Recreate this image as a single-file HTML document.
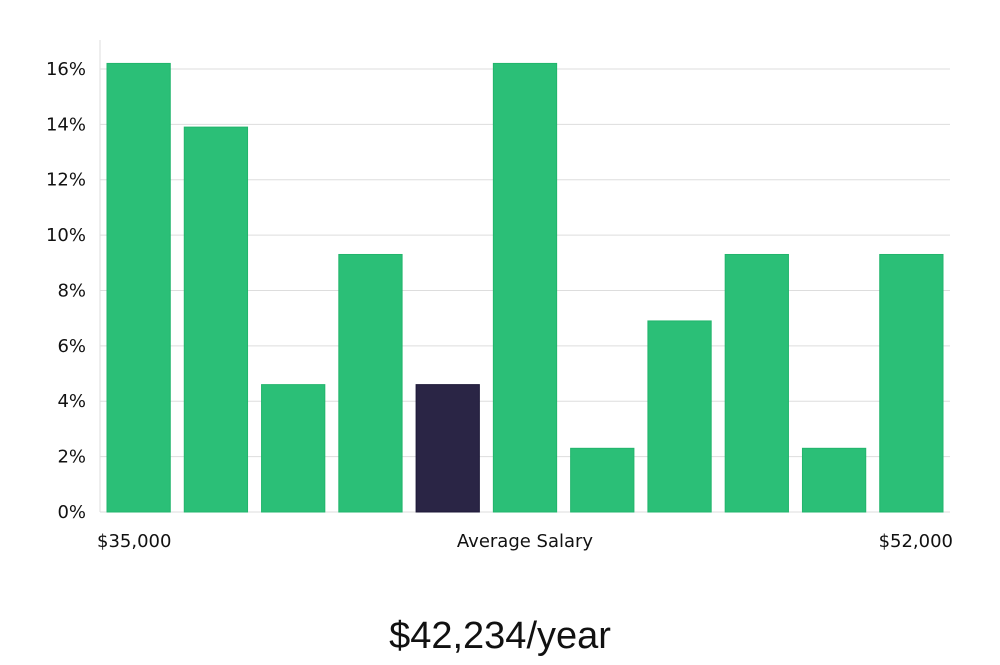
<!DOCTYPE html>
<html><head><meta charset="utf-8"><style>
body{margin:0;background:#fff;}
svg text{font-family:"DejaVu Sans","Liberation Sans",sans-serif;fill:#111;}
</style></head><body>
<svg width="1000" height="660">
<g id="grid"></g><g id="bars"></g><g id="labels"></g>
<line x1="100" y1="40" x2="100" y2="512" stroke="#ddd"/>
<text x="97" y="547" font-size="18">$35,000</text>
<text x="525" y="547" font-size="18" text-anchor="middle">Average Salary</text>
<text x="953" y="547" font-size="18" text-anchor="end">$52,000</text>
<text x="500" y="648" font-size="38" text-anchor="middle" style="font-family:'Liberation Sans Narrow','Liberation Sans',sans-serif;font-weight:300">$42,234/year</text>
</svg>
<script>
const values=[16.2,13.9,4.6,9.3,4.6,16.2,2.3,6.9,9.3,2.3,9.3];
const highlightIndex=4;
const yTicks=[0,2,4,6,8,10,12,14,16];
const x0=100,x1=950,yBase=512,yPer=27.69;
const ns="http://www.w3.org/2000/svg";
const y=v=>yBase-v*yPer;
const slot=(x1-x0)/values.length;
const g=document.getElementById('grid'),b=document.getElementById('bars'),l=document.getElementById('labels');
yTicks.forEach(t=>{
 const ln=document.createElementNS(ns,'line');
 
 
 ln.setAttribute('x1',x0);ln.setAttribute('x2',x1);ln.setAttribute('y1',y(t));ln.setAttribute('y2',y(t));
 ln.setAttribute('stroke','#ddd');g.appendChild(ln);
 const tx=document.createElementNS(ns,'text');
 
 
 tx.setAttribute('x',86);tx.setAttribute('y',y(t)+6);tx.setAttribute('text-anchor','end');tx.setAttribute('font-size','18');
 tx.textContent=t+'%';l.appendChild(tx);
});
values.forEach((v,i)=>{
 const r=document.createElementNS(ns,'rect');
 
 
 r.setAttribute('x',x0+i*slot+7);r.setAttribute('width',slot-14);
 r.setAttribute('y',y(v));r.setAttribute('height',yBase-y(v));
 r.setAttribute('fill',i===highlightIndex?'#2a2545':'#2bbf77');
 r.setAttribute('stroke',i===highlightIndex?'#1c1838':'#22b56c');
 b.appendChild(r);
});
</script>
</body></html>
